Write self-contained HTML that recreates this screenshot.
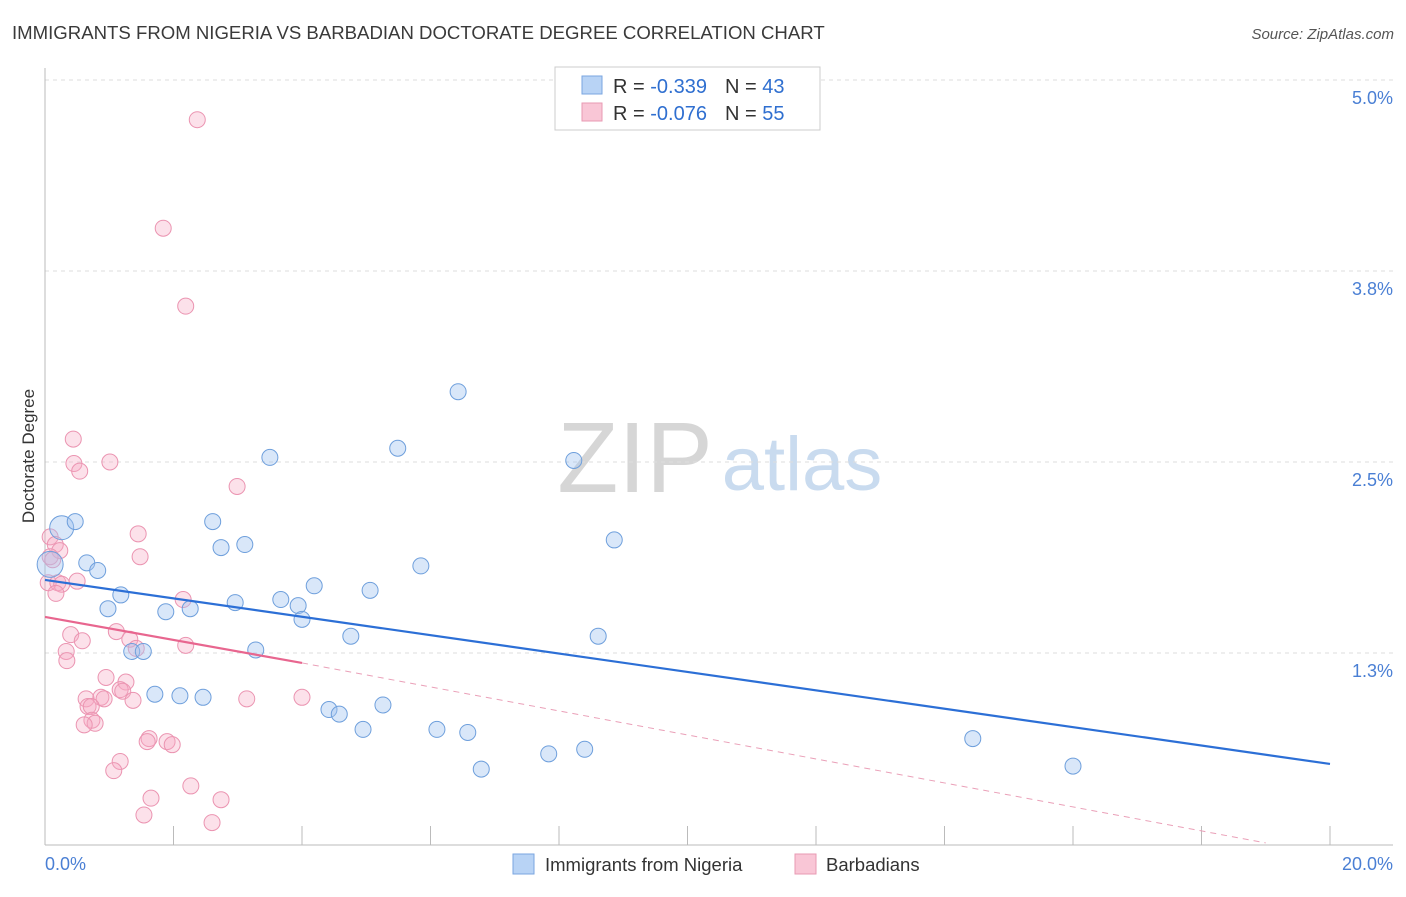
<!DOCTYPE html>
<html><head><meta charset="utf-8"><style>
body{margin:0;background:#fff;font-family:"Liberation Sans",sans-serif;}
svg text{font-family:"Liberation Sans",sans-serif;}
</style></head><body>
<svg id="chart" width="1406" height="892" xmlns="http://www.w3.org/2000/svg">
<text x="12" y="39" font-size="18.6" fill="#3a3a3a">IMMIGRANTS FROM NIGERIA VS BARBADIAN DOCTORATE DEGREE CORRELATION CHART</text>
<text x="1394" y="39" font-size="15" fill="#555" font-style="italic" text-anchor="end">Source: ZipAtlas.com</text>
<g>
<text x="635" y="492" font-size="100" fill="#d6d6d6" font-family="Liberation Serif,serif" text-anchor="middle">ZIP</text>
<text x="802" y="490" font-size="76" fill="#c9dbef" text-anchor="middle">atlas</text>
</g>
<g id="grid"></g>
<g id="axes"></g>
<g id="marks"></g>
<text transform="translate(34,456) rotate(-90)" font-size="17" fill="#333" text-anchor="middle">Doctorate Degree</text>
<text x="45" y="870" font-size="18" fill="#4a7fd4">0.0%</text>
<text x="1393" y="870" font-size="18" fill="#4a7fd4" text-anchor="end">20.0%</text>
<g>
<rect x="555" y="67" width="265" height="63" fill="#fff" stroke="#ccc"/>
<rect x="582" y="76" width="20" height="18" fill="#b8d3f5" stroke="#7aa6e0"/>
<rect x="582" y="103" width="20" height="18" fill="#f9c6d6" stroke="#e89ab3"/>
<text x="613" y="93" font-size="20" fill="#333">R = <tspan fill="#2f6fd0">-0.339</tspan><tspan dx="18">N = </tspan><tspan fill="#2f6fd0">43</tspan></text>
<text x="613" y="120" font-size="20" fill="#333">R = <tspan fill="#2f6fd0">-0.076</tspan><tspan dx="18">N = </tspan><tspan fill="#2f6fd0">55</tspan></text>
</g>
<g>
<rect x="513" y="854" width="21" height="20" fill="#b8d3f5" stroke="#7aa6e0"/>
<text x="545" y="871" font-size="18.5" fill="#333">Immigrants from Nigeria</text>
<rect x="795" y="854" width="21" height="20" fill="#f9c6d6" stroke="#e89ab3"/>
<text x="826" y="871" font-size="18.5" fill="#333">Barbadians</text>
</g>
</svg>
<script>
const yTicks=[1.25,2.5,3.75,5.0];
const yTickLabels=["1.3%","2.5%","3.8%","5.0%"];
const xTicks=[0,2,4,6,8,10,12,14,16,18,20];
const blueX=[.26,.47,.65,.82,.98,1.18,1.35,1.53,1.71,1.88,2.10,2.26,2.46,2.61,2.74,2.96,3.11,3.28,3.50,3.67,3.94,4.00,4.19,4.42,4.58,4.76,4.95,5.06,5.26,5.49,5.85,6.10,6.43,6.58,6.79,7.84,8.23,8.40,8.61,8.86,14.44,16.00,.08];
const blueY=[2.07,2.11,1.84,1.79,1.54,1.63,1.26,1.26,.98,1.52,.97,1.54,.96,2.11,1.94,1.58,1.96,1.27,2.53,1.60,1.56,1.47,1.69,.88,.85,1.36,.75,1.66,.91,2.59,1.82,.75,2.96,.73,.49,.59,2.51,.62,1.36,1.99,.69,.51,1.83];
const blueR=[12,8,8,8,8,8,8,8,8,8,8,8,8,8,8,8,8,8,8,8,8,8,8,8,8,8,8,8,8,8,8,8,8,8,8,8,8,8,8,8,8,8,13];
const pinkX=[2.37,1.84,2.19,.44,.45,.54,1.01,2.99,1.45,1.48,.08,.16,.23,.08,.05,.20,.26,.50,.17,2.15,.40,.58,1.11,1.32,1.42,2.19,.33,.34,.95,1.26,1.17,1.21,.64,.87,.92,1.37,.67,.72,3.14,4.00,.73,.78,.61,1.62,1.59,1.90,1.98,1.17,1.07,1.65,2.27,2.74,1.54,2.60,.12];
const pinkY=[4.74,4.03,3.52,2.65,2.49,2.44,2.50,2.34,2.03,1.88,2.01,1.96,1.92,1.88,1.71,1.71,1.70,1.72,1.64,1.60,1.37,1.33,1.39,1.34,1.28,1.30,1.26,1.20,1.09,1.06,1.01,1.00,.95,.96,.95,.94,.90,.90,.95,.96,.81,.79,.78,.69,.67,.67,.65,.54,.48,.30,.38,.29,.19,.14,1.86];
const blueTrendX=[0,20];const blueTrendY=[1.728,0.524];
const pinkTrendX=[0,4];const pinkTrendY=[1.486,1.185];
const pinkDashX=[4,19];const pinkDashY=[1.185,0.007];
const NS="http://www.w3.org/2000/svg";
const X=v=>45+v*64.25, Y=v=>844-v*152.8;
function mk(t,a,p){const e=document.createElementNS(NS,t);for(const k in a)e.setAttribute(k,a[k]);p.appendChild(e);return e;}
const grid=document.getElementById('grid'),axes=document.getElementById('axes'),marks=document.getElementById('marks');
yTicks.forEach((v,i)=>{
 const l=mk('line',{x1:45,x2:1393,y1:Y(v),y2:Y(v),stroke:'#ddd','stroke-dasharray':'4,4'},grid);
 
 
 const t=mk('text',{x:1393,y:Y(v)+24,'font-size':18,fill:'#4a7fd4','text-anchor':'end'},grid);
 t.textContent=yTickLabels[i];
 
 
});
const ax=mk('line',{x1:45,x2:45,y1:68,y2:845,stroke:'#bbb'},axes);


const bx=mk('line',{x1:45,x2:1393,y1:845,y2:845,stroke:'#bbb'},axes);


xTicks.forEach(v=>{
 const t=mk('line',{x1:X(v),x2:X(v),y1:826,y2:845,stroke:'#bbb'},axes);
 
 
});
pinkX.forEach((v,i)=>{
 const c=mk('circle',{cx:X(v),cy:Y(pinkY[i]),r:8,fill:'rgba(246,168,194,0.35)',stroke:'#eb94b1','stroke-width':1},marks);
 
 
});
blueX.forEach((v,i)=>{
 const c=mk('circle',{cx:X(v),cy:Y(blueY[i]),r:blueR[i],fill:'rgba(160,196,240,0.4)',stroke:'#6e9fdc','stroke-width':1},marks);
 
 
});
const bl=mk('line',{x1:X(blueTrendX[0]),y1:Y(blueTrendY[0]),x2:X(blueTrendX[1]),y2:Y(blueTrendY[1]),stroke:'#2c6fd6','stroke-width':2.2},marks);


const pl=mk('line',{x1:X(pinkTrendX[0]),y1:Y(pinkTrendY[0]),x2:X(pinkTrendX[1]),y2:Y(pinkTrendY[1]),stroke:'#e8668f','stroke-width':2.2},marks);


const pd=mk('line',{x1:X(pinkDashX[0]),y1:Y(pinkDashY[0]),x2:X(pinkDashX[1]),y2:Y(pinkDashY[1]),stroke:'#eaa0b8','stroke-width':1,'stroke-dasharray':'6,5'},marks);


</script>
</body></html>
